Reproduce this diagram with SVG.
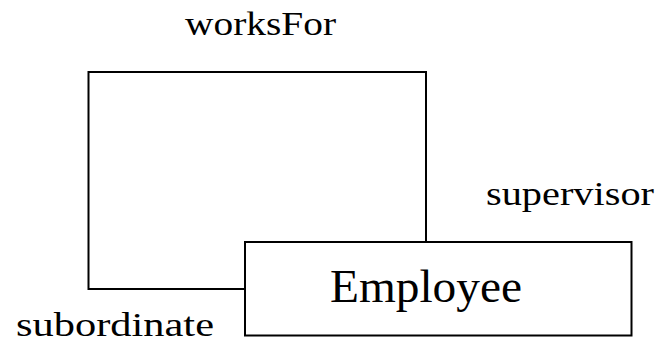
<svg xmlns="http://www.w3.org/2000/svg" width="662" height="342" viewBox="0 0 662 342">
<style>
.line{fill:none;stroke:#000;stroke-width:2;stroke-linejoin:miter}
.lbl{font-family:"Liberation Serif","Times New Roman",serif;font-size:34px;fill:#000}
.name{font-family:"Liberation Serif","Times New Roman",serif;font-size:47px;fill:#000}
</style>
<rect width="662" height="342" fill="#fff"/>
<g id="connectors">
<path class="line" d="M245,289 H88.5 V72 H426 V242"/>
<text class="lbl" x="185" y="35" textLength="151" lengthAdjust="spacingAndGlyphs">worksFor</text>
<text class="lbl" x="486" y="205" textLength="168" lengthAdjust="spacingAndGlyphs">supervisor</text>
<text class="lbl" x="16" y="336" textLength="198" lengthAdjust="spacingAndGlyphs">subordinate</text>
</g>
<g id="employee">
<rect class="line" x="245" y="242" width="386.5" height="93.5"/>
<text class="name" x="330" y="302" textLength="192" lengthAdjust="spacingAndGlyphs">Employee</text>
</g>
</svg>
